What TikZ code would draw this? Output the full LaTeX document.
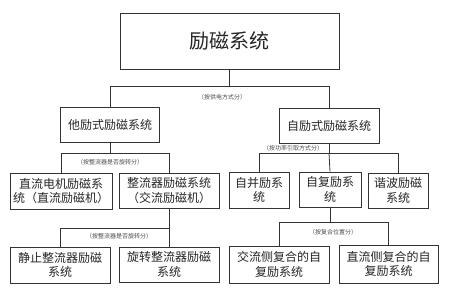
\documentclass[tikz,border=0pt]{standalone}
\usepackage{fontspec}
\newfontfamily\cjk{Noto Sans CJK SC}
\begin{document}
\begin{tikzpicture}[x=1pt,y=-1pt,
  box/.style={draw=black!80,line width=0.8pt,inner sep=0pt,align=center,
    font=\cjk\fontsize{12}{14.5}\selectfont,text=black!85},
  lbl/.style={font=\cjk\fontsize{6}{6}\selectfont,text=black!70,inner sep=0pt},
  wire/.style={draw=black!80,line width=0.8pt}]
\useasboundingbox[fill=white] (0,0) rectangle (450,293);
% boxes
\node[box,minimum width=219pt,minimum height=56pt,font=\cjk\fontsize{20}{22}\selectfont] (root) at (229.5,41) {励磁系统};
\node[box,minimum width=99pt,minimum height=35pt] (ta) at (110,124.5) {他励式励磁系统};
\node[box,minimum width=100pt,minimum height=35pt] (zi) at (329,125.5) {自励式励磁系统};
\node[box,minimum width=102pt,minimum height=36pt] (dl) at (61,191) {直流电机励磁系\\统（直流励磁机）};
\node[box,minimum width=100pt,minimum height=35pt] (zl) at (169,190.5) {整流器励磁系统\\（交流励磁机）};
\node[box,minimum width=100pt,minimum height=36pt] (jz) at (60,265) {静止整流器励磁\\系统};
\node[box,minimum width=100pt,minimum height=35pt] (xz) at (169,264.5) {旋转整流器励磁\\系统};
\node[box,minimum width=60pt,minimum height=36pt] (zb) at (259,190) {自并励系\\统};
\node[box,minimum width=62pt,minimum height=35pt] (zf) at (330,189.5) {自复励系\\统};
\node[box,minimum width=60pt,minimum height=35pt] (xb) at (398,190.5) {谐波励磁\\系统};
\node[box,minimum width=100pt,minimum height=37pt] (jl) at (279,264.5) {交流侧复合的自\\复励系统};
\node[box,minimum width=99pt,minimum height=38pt] (zlc) at (388.5,264) {直流侧复合的自\\复励系统};
% labels
\node[lbl] (l1) at (222,97) {（按供电方式分）};
\node[lbl] (l2) at (110,162) {（按整流器是否旋转分）};
\node[lbl] (l3) at (119,236) {（按整流器是否旋转分）};
\node[lbl] (l4) at (293,148) {（按功率引取方式分）};
\node[lbl] (l5) at (333,232) {（按复合位置分）};
% bus coordinates
\coordinate (b1) at (229.5,86);
\coordinate (b2) at (110,153);
\coordinate (b3) at (169,228);
\coordinate (b4) at (329,153);
\coordinate (b5) at (330,222);
% connectors
\draw[wire] (root.south) -- (b1);
\draw[wire] (ta.north) -- (ta.north |- b1) -- (zi.north |- b1) -- (zi.north);
\draw[wire] (ta.south) -- (b2);
\draw[wire] (dl.north) -- (dl.north |- b2) -- (zl.north |- b2) -- (zl.north);
\draw[wire] (zl.south) -- (b3);
\draw[wire] (jz.north) -- (jz.north |- b3) -- (xz.north |- b3) -- (xz.north);
\draw[wire] (zi.south) -- (b4);
\draw[wire] (zb.north) -- (zb.north |- b4) -- (xb.north |- b4) -- (xb.north);
\draw[wire] (b4) -- (zf.north);
\draw[wire] (zf.south) -- (b5);
\draw[wire] (jl.north) -- (jl.north |- b5) -- (zlc.north |- b5) -- (zlc.north);
\end{tikzpicture}
\end{document}
